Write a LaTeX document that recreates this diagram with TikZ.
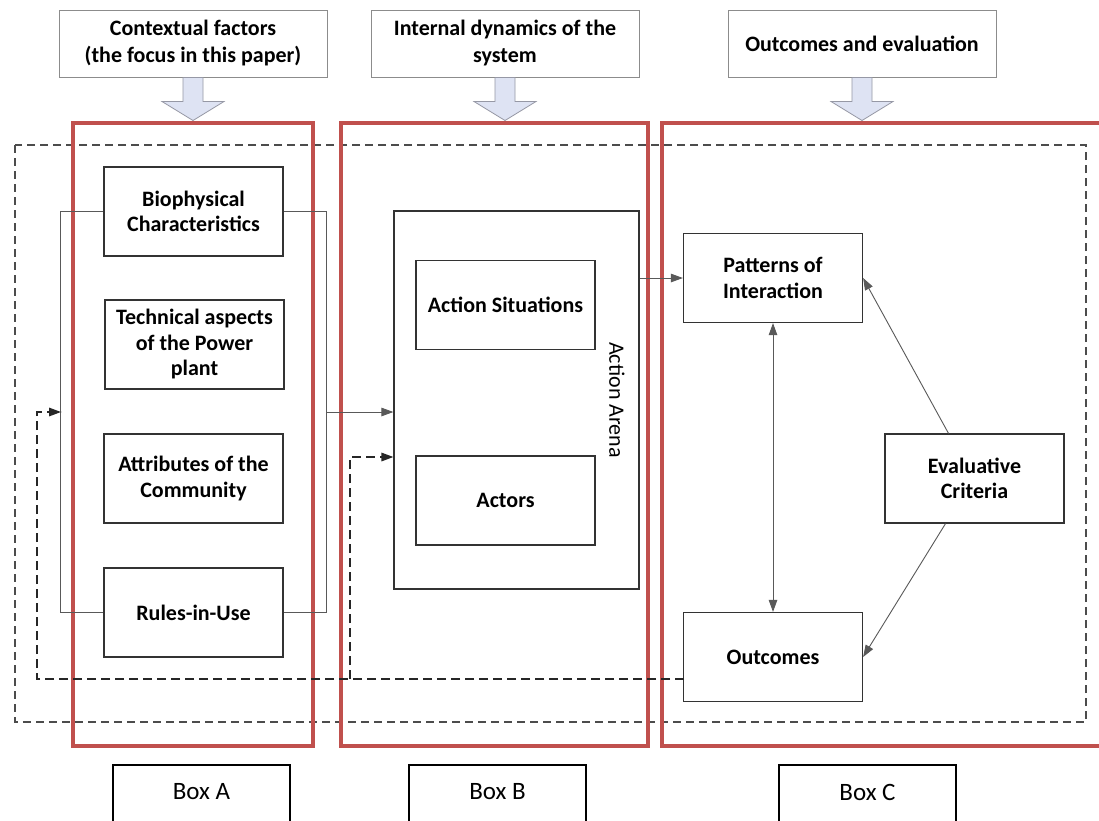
\documentclass[tikz,border=0pt]{standalone}
\usepackage{fontspec}
\setmainfont{Carlito}
\usetikzlibrary{arrows.meta,calc}
\definecolor{boxred}{RGB}{192,80,77}
\definecolor{arrowfill}{RGB}{222,227,243}
\definecolor{arrowdraw}{RGB}{150,152,165}
\begin{document}
\begin{tikzpicture}[x=1pt,y=-1pt,
  inbox/.style={draw=black!80,line width=1.2pt,minimum width=179pt,minimum height=89pt,inner sep=0pt,align=center,font=\fontsize{22}{25.5}\selectfont\bfseries},
  topbox/.style={draw=black!45,line width=1pt,minimum width=268pt,minimum height=67pt,inner sep=0pt,align=center,font=\fontsize{22}{27}\selectfont\bfseries},
  labbox/.style={draw=black,line width=1.5pt,minimum width=177pt,minimum height=70pt,inner sep=0pt,font=\fontsize{25}{30}\selectfont},
  redbox/.style={draw=boxred,line width=4.2pt},
  conn/.style={draw=black!65,line width=0.9pt},
  arr/.style={-{Triangle[length=12pt,width=8.5pt]}},
  fb/.style={draw=black!85,line width=1.6pt,dash pattern=on 9pt off 5pt},
  outerdash/.style={draw=black!70,line width=1.1pt,dash pattern=on 8pt off 5pt},
  blockarr/.style={fill=arrowfill,draw=arrowdraw,line width=0.8pt},
  downarrow/.pic={\path[blockarr] (-10,0) -- (-10,24) -- (-31,24) -- (0,43) -- (31,24) -- (10,24) -- (10,0) -- cycle;}
]
\useasboundingbox[fill=white] (0,0) rectangle (1099,820);
\clip (0,0) rectangle (1099,820);

% top boxes
\node[topbox] (t1) at (193,43.5) {Contextual factors\\(the focus in this paper)};
\node[topbox] (t2) at (505,43.5) {Internal dynamics of the\\system};
\node[topbox] (t3) at (862,43.5) {Outcomes and evaluation};
\pic at (t1.south) {downarrow};
\pic at (t2.south) {downarrow};
\pic at (t3.south) {downarrow};

% outer dashed frame
\draw[outerdash] (15,145) rectangle (1086,722);

% red boxes
\draw[redbox] (73,123) rectangle (313,746);
\draw[redbox] (341,123) rectangle (648,746);
\draw[redbox] (662,123) rectangle (1112,746);

% Box A content
\node[inbox,fill=white] (bio) at (193.5,211.5) {Biophysical\\Characteristics};
\node[inbox] (tech) at (194.5,344.5) {Technical aspects\\of the Power\\plant};
\node[inbox] (attr) at (193.5,478.5) {Attributes of the\\Community};
\node[inbox,fill=white] (rules) at (193.5,612.5) {Rules-in-Use};
\draw[conn] (bio.west) -- ++(-43,0) |- (rules.west);
\draw[conn] (bio.east) -- ++(43,0) |- (rules.east);

% Box B content
\node[draw=black!80,line width=1.2pt,minimum width=245pt,minimum height=378pt,inner sep=0pt] (arena) at (516.5,400) {};
\node[inbox] (sit) at (505.5,305) {Action Situations};
\node[inbox] (actors) at (505.5,500.5) {Actors};
\node[rotate=-90,font=\fontsize{22}{26}\selectfont] (arenalabel) at (617,400) {Action Arena};

% Box C content
\node[inbox] (pat) at (773,278) {Patterns of\\Interaction};
\node[inbox,fill=white] (out) at (773,657) {Outcomes};
\node[inbox] (eval) at (974.5,478.5) {Evaluative\\Criteria};

% connectors
\coordinate (rb) at (326,412);
\draw[conn,arr] (rb) -- (rb -| arena.west);
\draw[conn,arr] (arena.east |- pat.west) -- (pat.west);
\draw[conn,{Triangle[length=12pt,width=8.5pt]}-{Triangle[length=12pt,width=8.5pt]}] (pat.south) -- (out.south |- out.north);
\draw[conn,arr] ($(eval.north)+(-26,0)$) -- (pat.east);
\draw[conn,arr] ($(eval.south)+(-29,0)$) -- (out.east);

% feedback dashed
\coordinate (fbstart) at (684,679);
\coordinate (lb) at (61,412);
\coordinate (branch) at (350,679);
\draw[fb] (fbstart) -| (37,412) -- (lb);
\draw[fb,arr] (48,412) -- (lb);
\draw[fb] (branch) |- (380,457);
\draw[fb,arr] (380,457) -- (arena.west |- 0,457);

% bottom labels
\node[labbox,anchor=north] (boxA) at (201.5,764) {};
\node[labbox,anchor=north] (boxB) at (497.5,764) {};
\node[labbox,anchor=north] (boxC) at (867.5,764) {};
\node[font=\fontsize{25}{30}\selectfont] at (201.5,792) {Box A};
\node[font=\fontsize{25}{30}\selectfont] at (497.5,792) {Box B};
\node[font=\fontsize{25}{30}\selectfont] at (867.5,792) {Box C};
\end{tikzpicture}
\end{document}
